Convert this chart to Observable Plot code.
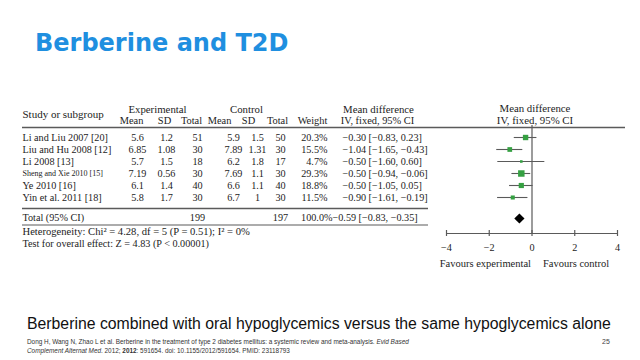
<!DOCTYPE html>
<html><head><meta charset="utf-8">
<script src="https://cdn.jsdelivr.net/npm/d3@7"></script>
<script src="https://cdn.jsdelivr.net/npm/@observablehq/plot@0.6"></script>
<style>
html,body{margin:0;padding:0;background:#fff;width:640px;height:360px;overflow:hidden;}
#page{position:relative;width:640px;height:360px;}
#title{position:absolute;left:35px;top:29px;font:bold 24px "DejaVu Sans";line-height:28px;color:#1f8fe0;white-space:nowrap;}
#charts{position:absolute;left:0;top:95px;display:flex;}
#charts svg{display:block;}
#subtitle{position:absolute;left:27px;top:315px;font:15.8px "Liberation Sans";line-height:18px;color:#111;white-space:nowrap;}
#cite{position:absolute;left:27px;top:337px;font:6.4px "Liberation Sans";line-height:9px;color:#333;white-space:nowrap;}
#pg{position:absolute;left:602px;top:338px;font:7px "Liberation Sans";color:#444;}
</style></head>
<body><div id="page">
<div id="title">Berberine and T2D</div>
<div id="charts"></div>
<div id="subtitle">Berberine combined with oral hypoglycemics versus the same hypoglycemics alone</div>
<div id="cite">Dong H, Wang N, Zhao L et al. Berberine in the treatment of type 2 diabetes mellitus: a systemic review and meta-analysis. <i>Evid Based</i><br><i>Complement Alternat Med</i>. 2012; <b>2012</b>: 591654. doi: 10.1155/2012/591654. PMID: 23118793</div>
<div id="pg">25</div>
</div>
<script>
// ---- data ----
const studies = ["Li and Liu 2007 [20]", "Liu and Hu 2008 [12]", "Li 2008 [13]", "Sheng and Xie 2010 [15]", "Ye 2010 [16]", "Yin et al. 2011 [18]"];
const expMean = [5.6, 6.85, 5.7, 7.19, 6.1, 5.8];
const expSD = [1.2, 1.08, 1.5, 0.56, 1.4, 1.7];
const expTotal = [51, 30, 18, 30, 40, 30];
const ctlMean = [5.9, 7.89, 6.2, 7.69, 6.6, 6.7];
const ctlSD = [1.5, 1.31, 1.8, 1.1, 1.1, 1];
const ctlTotal = [50, 30, 17, 30, 40, 30];
const weight = [20.3, 15.5, 4.7, 29.3, 18.8, 11.5];
const md = [-0.30, -1.04, -0.50, -0.50, -0.50, -0.90];
const ciLow = [-0.83, -1.65, -1.60, -0.94, -1.05, -1.61];
const ciHigh = [0.23, -0.43, 0.60, -0.06, 0.05, -0.19];
const totalExp = 199, totalCtl = 197, totalWeight = 100.0;
const totalMD = -0.59, totalLow = -0.83, totalHigh = -0.35;
const heterogeneityText = "Heterogeneity: Chi² = 4.28, df = 5 (P = 0.51); I² = 0%";
const overallText = "Test for overall effect: Z = 4.83 (P < 0.00001)";
const xTicks = [-4, -2, 0, 2, 4];
const favours = ["Favours experimental", "Favours control"];

// ---- build ----
const fmt2 = d3.format(".2f");
const fmtW = w => d3.format(".1f")(w) + "%";
const ciText = (m, l, h) => `${fmt2(m)} [${fmt2(l)}, ${fmt2(h)}]`;
const rows = studies.map((s, i) => ({
  study: s, eMean: expMean[i], eSD: expSD[i], eTotal: expTotal[i],
  cMean: ctlMean[i], cSD: ctlSD[i], cTotal: ctlTotal[i], weight: weight[i],
  md: md[i], lo: ciLow[i], hi: ciHigh[i]
}));
const cellText = (k, d) => k === "weight" ? fmtW(d.weight) : k === "ci" ? ciText(d.md, d.lo, d.hi) : String(d[k]);

const yKeys = ["h1", "h2", "hr", ...studies, "sep", "Total", "Het", "Test", "Fav"];
const yOpts = {type: "point", domain: yKeys, range: [6, 6 + 12 * (yKeys.length - 1)], padding: 0, axis: null};
const colKeys = ["eMean", "eSD", "eTotal", "cMean", "cSD", "cTotal", "weight", "ci"];
const colLayout = {
  eMean: {dx: 0, anchor: "middle"}, eSD: {dx: 0, anchor: "middle"}, eTotal: {dx: 2, anchor: "middle"},
  cMean: {dx: 9, anchor: "middle"}, cSD: {dx: 4, anchor: "middle"}, cTotal: {dx: -2, anchor: "middle"},
  weight: {dx: 16, anchor: "end"}, ci: {dx: 2, anchor: "start"}
};
const header2 = [
  {col: "eMean", t: "Mean", dx: -6}, {col: "eSD", t: "SD", dx: -2}, {col: "eTotal", t: "Total", dx: -4},
  {col: "cMean", t: "Mean", dx: -5}, {col: "cSD", t: "SD", dx: -5}, {col: "cTotal", t: "Total", dx: -5},
  {col: "weight", t: "Weight", dx: 1}, {col: "ci", t: "IV, fixed, 95% CI", dx: 37}
];
const header1 = [
  {col: "eSD", t: "Experimental", dx: -9}, {col: "cSD", t: "Control", dx: -7}, {col: "ci", t: "Mean difference", dx: 38}
];
const totalCells = [
  {col: "eTotal", t: String(totalExp), dx: 2, anchor: "middle"},
  {col: "cTotal", t: String(totalCtl), dx: -2, anchor: "middle"},
  {col: "weight", t: fmtW(totalWeight), dx: 21, anchor: "end"},
  {col: "ci", t: ciText(totalMD, totalLow, totalHigh), dx: -8, anchor: "start"}
];
const ink = "#1c1c1c", lineC = "#5a5a5a";

const table = Plot.plot({
  width: 432, height: 185, marginLeft: 22, marginRight: 0, marginTop: 0, marginBottom: 0,
  style: {fontFamily: "Liberation Serif", fontSize: "10.2px", background: "transparent", color: ink, overflow: "visible"},
  x: {type: "point", domain: colKeys, range: [137, 340], padding: 0, axis: null},
  y: yOpts,
  marks: [
    Plot.ruleY(["hr"], {y: d => d, dy: 2, stroke: lineC, strokeWidth: 1.6}),
    Plot.ruleY(["sep"], {y: d => d, dy: -1, stroke: lineC, strokeWidth: 1.6, insetRight: 4}),
    Plot.ruleY(["Total"], {y: d => d, dy: 3.5, stroke: lineC, strokeWidth: 1.1, insetRight: 4}),
    Plot.text(["Study or subgroup"], {frameAnchor: "left", y: () => "h2", dy: 1, textAnchor: "start", fontSize: 11}),
    ...header1.map(h => Plot.text([h], {x: () => h.col, y: () => "h1", dy: 8, dx: h.dx, text: d => d.t, fontSize: 10.8})),
    ...header2.map(h => Plot.text([h], {x: () => h.col, y: () => "h2", dy: 7, dx: h.dx, text: d => d.t, fontSize: 10.4})),
    Plot.text(rows, {frameAnchor: "left", y: "study", text: "study", textAnchor: "start",
      fontSize: d => d.study.startsWith("Sheng") ? 8 : 10.2}),
    ...colKeys.map(k => Plot.text(rows, {x: () => k, y: "study", text: d => cellText(k, d),
      textAnchor: colLayout[k].anchor, dx: colLayout[k].dx})),
    Plot.text(["Total (95% CI)"], {frameAnchor: "left", y: () => "Total", dy: -4, textAnchor: "start"}),
    ...totalCells.map(c => Plot.text([c], {x: () => c.col, y: () => "Total", dy: -4, dx: c.dx, text: d => d.t, textAnchor: c.anchor})),
    Plot.text([heterogeneityText], {frameAnchor: "left", y: () => "Het", dy: -2, textAnchor: "start", fontSize: 10.6}),
    Plot.text([overallText], {frameAnchor: "left", y: () => "Test", dy: -2, textAnchor: "start"})
  ]
});

const forest = Plot.plot({
  width: 208, height: 185, marginLeft: 14, marginRight: 23, marginTop: 0, marginBottom: 0,
  style: {fontFamily: "Liberation Serif", fontSize: "10.2px", background: "transparent", color: ink, overflow: "visible"},
  x: {domain: [-4, 4], axis: null},
  y: yOpts,
  r: {type: "sqrt", domain: [0, 30], range: [0, 3.7]},
  marks: [
    Plot.ruleY(["hr"], {y: d => d, dy: 2, stroke: lineC, strokeWidth: 1.6, insetLeft: -14, insetRight: -8}),
    Plot.text(["Mean difference"], {x: () => 0, y: () => "h1", dy: 7, dx: 3, fontSize: 10.8}),
    Plot.text(["IV, fixed, 95% CI"], {x: () => 0, y: () => "h2", dy: 7, dx: 3, fontSize: 10.8}),
    Plot.ruleX([0], {x: d => d, y1: () => "hr", y2: () => "Het", stroke: lineC, strokeWidth: 1.2}),
    Plot.ruleY(rows, {y: "study", x1: "lo", x2: "hi", stroke: lineC, strokeWidth: 1.1}),
    Plot.dot(rows, {x: "md", y: "study", r: "weight", symbol: "square", fill: "#35a042", stroke: null}),
    Plot.dot([totalMD], {x: d => d, y: () => "Total", dy: -3, symbol: "diamond2", r: 4.6, fill: "#000"}),
    Plot.ruleY(["Het"], {y: d => d, stroke: lineC, strokeWidth: 1.2}),
    Plot.ruleX(xTicks, {x: d => d, y1: () => "Het", y2: () => "Het", insetTop: -3, insetBottom: -3, stroke: lineC, strokeWidth: 1.2}),
    Plot.text(xTicks, {x: d => d, y: () => "Test", dy: 2, text: d => d3.format("d")(d)}),
    Plot.text([favours[0]], {x: () => 0, y: () => "Fav", dy: 6, dx: -1, textAnchor: "end", fontSize: 10.5}),
    Plot.text([favours[1]], {x: () => 0, y: () => "Fav", dy: 6, dx: 11, textAnchor: "start", fontSize: 10.5})
  ]
});

const charts = document.getElementById("charts");
charts.appendChild(table);
charts.appendChild(forest);
</script>
</body></html>
